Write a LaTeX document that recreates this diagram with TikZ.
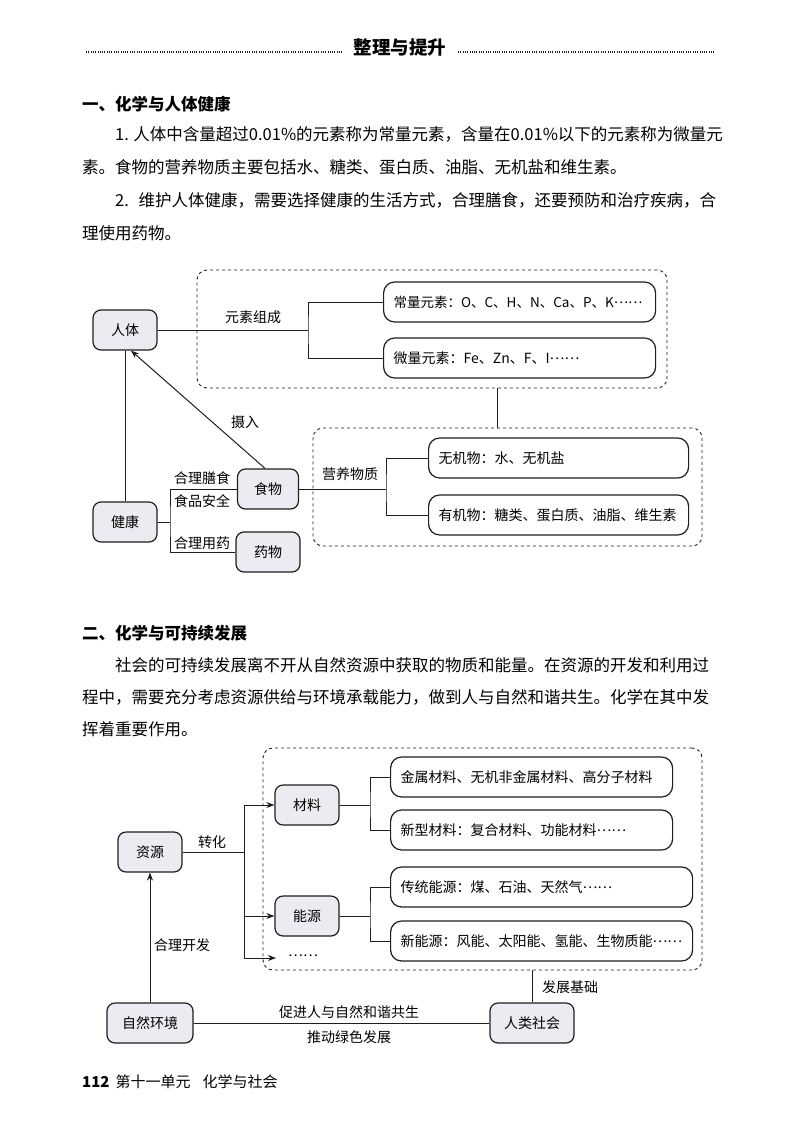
\documentclass[tikz,border=0pt]{standalone}
\usepackage{fontspec}
\setmainfont{Noto Sans CJK SC}
\usetikzlibrary{arrows.meta}

\definecolor{boxfill}{RGB}{235,235,241}
\definecolor{ink}{RGB}{30,30,30}

\newcommand{\fullline}[2]{\hbox to #1{\XeTeXlinebreaklocale "zh"\XeTeXlinebreakskip=0pt plus 1pt #2}}
\newcommand{\etcdots}{\raisebox{0.3em}{……}}

\tikzset{
	txt/.style={anchor=west, inner sep=0pt, font=\fontsize{16.5}{20}\selectfont},
	headtxt/.style={txt, font=\fontsize{16.5}{20}\selectfont\bfseries},
	box/.style={draw=ink, line width=1.2pt, rounded corners=8pt, fill=boxfill, minimum width=64pt, minimum height=40pt, inner sep=2pt},
	longbox/.style={draw=ink, line width=1.2pt, rounded corners=11pt, fill=white, anchor=west, minimum height=40pt, inner xsep=10pt, text width=#1, align=left},
	group/.style={draw=ink, dashed, line width=0.9pt, rounded corners=10pt},
	link/.style={draw=ink, line width=1pt},
	arw/.style={link, -{Stealth[length=8pt, width=6pt]}},
	lbl/.style={inner sep=1pt},
	dotrule/.style={draw=ink, line width=1.3pt, dash pattern=on 0.8pt off 1.5pt},
}

\begin{document}
\begin{tikzpicture}[x=1pt, y=-1pt, every node/.style={font=\fontsize{14}{16}\selectfont}]
	\useasboundingbox (0,0) rectangle (793,1122);
	\node[font=\fontsize{18.5}{20}\selectfont\bfseries] (Title) at (400,47) {整理与提升};
	\draw[dotrule] (86,52) -- (343,52);
	\draw[dotrule] (458,52) -- (714,52);

	\node[headtxt] (Sec1) at (82,104) {一、化学与人体健康};
	\node[txt] (P1a) at (115,134) {\fullline{601pt}{1. 人体中含量超过0.01\%的元素称为常量元素，含量在0.01\%以下的元素称为微量元}};
	\node[txt] (P1b) at (82,167) {素。食物的营养物质主要包括水、糖类、蛋白质、油脂、无机盐和维生素。};
	\node[txt] (P1c) at (115,200) {\fullline{601pt}{2. 维护人体健康，需要选择健康的生活方式，合理膳食，还要预防和治疗疾病，合}};
	\node[txt] (P1d) at (82,233) {理使用药物。};

	\node[group, minimum width=470pt, minimum height=118pt] (Elements) at (432,329) {};
	\node[group, minimum width=389pt, minimum height=118pt] (Nutrients) at (507.5,487) {};
	\node[box] (Body) at (125,330) {人体};
	\node[box] (Health) at (125,522) {健康};
	\node[box, minimum width=61pt] (Food) at (268,489) {食物};
	\node[box] (Drug) at (268,552) {药物};
	\node[longbox=252pt, font=\fontsize{13.5}{16}\selectfont] (Major) at (383,302) {常量元素：O、C、H、N、Ca、P、K\etcdots};
	\node[longbox=252pt] (Trace) at (383,358) {微量元素：Fe、Zn、F、I\etcdots};
	\node[longbox=240pt] (Inorganic) at (428,458) {无机物：水、无机盐};
	\node[longbox=240pt] (Organic) at (428,515) {有机物：糖类、蛋白质、油脂、维生素};

	\coordinate (B1) at (308,330);
	\coordinate (F1) at (386,489);
	\coordinate (H1) at (170,522);
	\draw[link] (Body.east) -- (B1);
	\draw[link] (Major.west) -| (B1) |- (Trace.west);
	\draw[link] (Food.east) -- (F1);
	\draw[link] (Inorganic.west) -| (F1) |- (Organic.west);
	\draw[link] (Health.east) -- (H1);
	\draw[link] (Food.west) -| (H1) |- (Drug.west);
	\draw[link] (Health.north) -- (Body.south);
	\draw[arw] ([xshift=-3pt]Food.north) -- ([xshift=6pt]Body.south);
	\draw[link] (Elements.south -| 497,0) -- (Nutrients.north -| 497,0);
	\node[lbl] (Composition) at (253,317) {元素组成};
	\node[lbl] (Intake) at (245,422) {摄入};
	\node[lbl] (Diet) at (202,478) {合理膳食};
	\node[lbl] (Safety) at (202,501) {食品安全};
	\node[lbl] (Medicine) at (202,543) {合理用药};
	\node[lbl] (Nutrition) at (350,474) {营养物质};

	\node[headtxt] (Sec2) at (82,633) {二、化学与可持续发展};
	\node[txt] (P2a) at (115,665) {\fullline{601pt}{社会的可持续发展离不开从自然资源中获取的物质和能量。在资源的开发和利用过}};
	\node[txt] (P2b) at (82,697) {\fullline{634pt}{程中，需要充分考虑资源供给与环境承载能力，做到人与自然和谐共生。化学在其中发}};
	\node[txt] (P2c) at (82,729) {挥着重要作用。};

	\node[group, minimum width=439pt, minimum height=222pt] (Supply) at (482.5,859) {};
	\node[box] (Resource) at (150,852) {资源};
	\node[box] (Material) at (307,805) {材料};
	\node[box] (Energy) at (307,916) {能源};
	\node[inner xsep=12pt] (More) at (303,958) {\etcdots};
	\node[longbox=262pt] (Metal) at (390,777) {金属材料、无机非金属材料、高分子材料};
	\node[longbox=262pt] (NewMat) at (390,830) {新型材料：复合材料、功能材料\etcdots};
	\node[longbox=282pt] (Fossil) at (390,887) {传统能源：煤、石油、天然气\etcdots};
	\node[longbox=282pt] (NewEnergy) at (390,941) {新能源：风能、太阳能、氢能、生物质能\etcdots};
	\node[box, minimum width=86pt] (Nature) at (150,1023) {自然环境};
	\node[box, minimum width=84pt] (Society) at (532,1023) {人类社会};

	\coordinate (R1) at (244,852);
	\coordinate (M1) at (370,805);
	\coordinate (E1) at (370,916);
	\draw[link] (Resource.east) -- (R1);
	\draw[arw] (R1) |- (Material.west);
	\draw[arw] (R1) |- (Energy.west);
	\draw[arw] (R1) |- (More.west);
	\draw[link] (Material.east) -- (M1);
	\draw[link] (Metal.west) -| (M1) |- (NewMat.west);
	\draw[link] (Energy.east) -- (E1);
	\draw[link] (Fossil.west) -| (E1) |- (NewEnergy.west);
	\draw[arw] (Nature.north) -- (Resource.south);
	\draw[link] (Nature.east) -- (Society.west);
	\draw[link] (Supply.south -| Society.north) -- (Society.north);
	\node[lbl] (Convert) at (212,842) {转化};
	\node[lbl] (Develop) at (182,945) {合理开发};
	\node[lbl] (Harmony) at (349,1012) {促进人与自然和谐共生};
	\node[lbl] (Green) at (349,1037) {推动绿色发展};
	\node[lbl] (Basis) at (570,987) {发展基础};

	\node[txt, font=\fontsize{15}{18}\selectfont] (Footer) at (82,1082) {\textbf{112}\hspace{6pt}第十一单元\hspace{12pt}化学与社会};
\end{tikzpicture}
\end{document}
